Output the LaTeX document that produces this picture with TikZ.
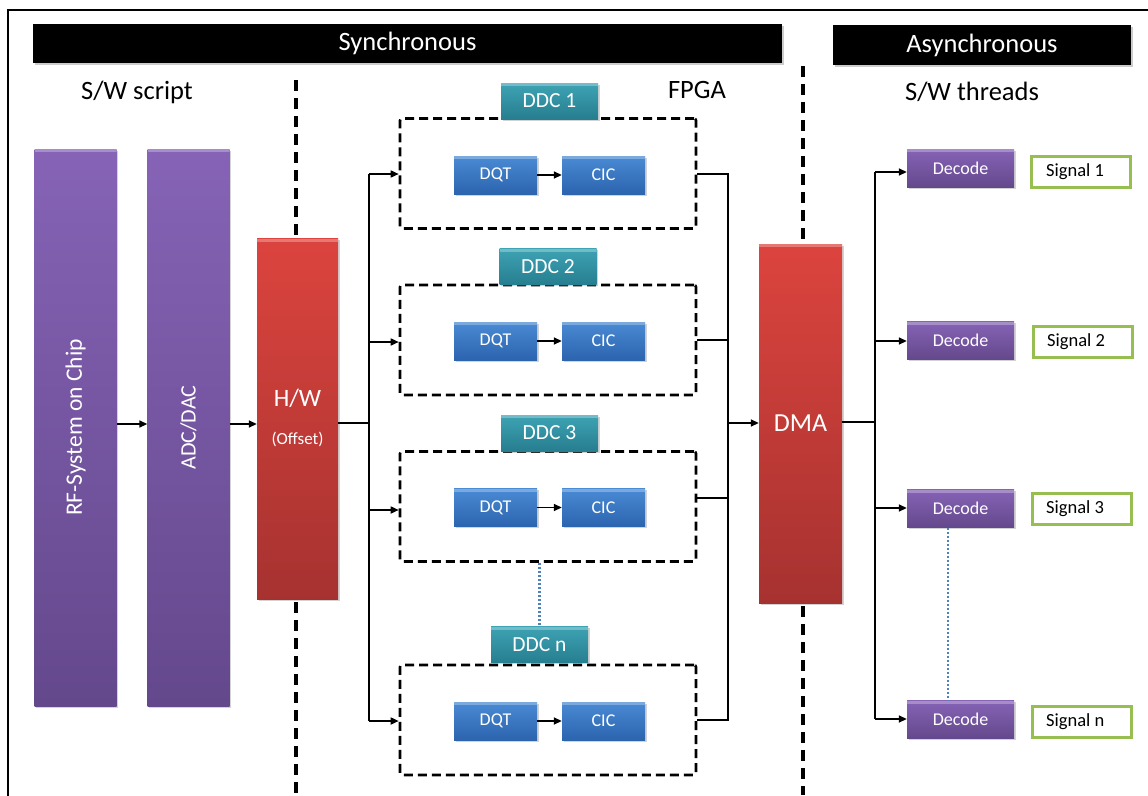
\documentclass[tikz,border=0pt]{standalone}
\usepackage{fontspec}
\setmainfont{Carlito}
\usepackage{graphicx}
\usetikzlibrary{shadows,arrows.meta}

\definecolor{purpleTop}{RGB}{134,99,182}
\definecolor{purpleBot}{RGB}{100,72,140}
\definecolor{redTop}{RGB}{220,68,62}
\definecolor{redBot}{RGB}{166,50,48}
\definecolor{tealTop}{RGB}{62,163,180}
\definecolor{tealBot}{RGB}{38,126,143}
\definecolor{blueTop}{RGB}{74,138,212}
\definecolor{blueBot}{RGB}{44,100,174}
\definecolor{sigGreen}{RGB}{150,190,80}
\definecolor{dotBlue}{RGB}{79,129,189}

\newcommand{\fsz}[1]{\fontsize{#1}{#1}\selectfont}

\begin{document}
\begin{tikzpicture}[x=1pt,y=-1pt,
  block/.style={rectangle, inner sep=0pt, text=white,
    drop shadow={shadow xshift=1.5pt, shadow yshift=-1.5pt, opacity=0.35},
    path picture={\fill[white,opacity=0.28]
      (path picture bounding box.north west) rectangle
      ([yshift=-3pt]path picture bounding box.north east);}},
  purpleblock/.style={block, top color=purpleTop, bottom color=purpleBot},
  redblock/.style={block, top color=redTop, bottom color=redBot},
  tealblock/.style={block, top color=tealTop, bottom color=tealBot,
    minimum width=97pt, minimum height=36pt, font=\fsz{21.5}},
  blueblock/.style={block, top color=blueTop, bottom color=blueBot,
    minimum width=83pt, minimum height=38pt, font=\fsz{18}},
  decblock/.style={purpleblock, minimum width=107pt, minimum height=38pt, font=\fsz{18}},
  sigbox/.style={rectangle, draw=sigGreen, line width=3pt, fill=white,
    minimum width=99pt, minimum height=31pt},
  sigtext/.style={anchor=west, inner sep=0pt, font=\fsz{18.5}},
  headbar/.style={rectangle, fill=black, text=white, inner sep=0pt,
    drop shadow={shadow xshift=1.5pt, shadow yshift=-1.5pt, opacity=0.4},
    font=\fsz{26.5}},
  heading/.style={inner sep=0pt, font=\fsz{26.5}},
  ddcframe/.style={rectangle, draw, line width=2.6pt, dash pattern=on 9pt off 5pt,
    rounded corners=2pt, minimum width=296pt, minimum height=110pt},
  separator/.style={line width=3.2pt, dash pattern=on 11pt off 7pt},
  link/.style={line width=1.6pt},
  arrow/.style={link, -{Triangle[length=8pt,width=7pt]}},
  dotlink/.style={dotBlue, line width=2.6pt, dash pattern=on 2pt off 2pt}
]
\useasboundingbox (0,0) rectangle (1148,795);
\clip (0,0) rectangle (1148,795);

% outer frame
\draw[line width=2pt] (8,10) rectangle (1170,820);

% header bars and titles
\node[headbar, minimum width=749pt, minimum height=39pt] (sync) at (407.5,43.5) {Synchronous};
\node[headbar, minimum width=298pt, minimum height=40pt] (async) at (982,45) {Asynchronous};
\node[heading] (swscript) at (137,92) {S/W script};
\node[heading] (fpga) at (697,90) {FPGA};
\node[heading] (swthreads) at (972,92) {S/W threads};

% domain separators
\draw[separator] (296,80) -- (296,795);
\draw[separator] (803,66) -- (803,795);

% software script stages
\node[purpleblock, minimum width=82pt, minimum height=557pt, font=\fsz{23.5}] (rf) at (75.5,427.5)
  {\rotatebox{90}{RF-System on Chip}};
\node[purpleblock, minimum width=82pt, minimum height=557pt, font=\fsz{22}] (adc) at (188.5,427.5)
  {\rotatebox{90}{ADC/DAC}};
\node[redblock, minimum width=81pt, minimum height=361pt, align=center] (hw) at (297.5,419)
  {\raisebox{-5pt}{\begin{tabular}{@{}c@{}}{\fsz{25}H/W}\\[22pt]{\fsz{17}(Offset)}\end{tabular}}};

% DDC channels
\foreach \i/\y/\ly/\lx/\lab in {1/173.5/101/549.5/DDC 1, 2/340/266.5/548/DDC 2,
                               3/506.5/433/549.5/DDC 3, n/720/644.5/539.5/DDC n}{
  \node[ddcframe] (box\i) at (548,\y) {};
  \node[tealblock] (ddc\i) at (\lx,\ly) {\lab};
}
\foreach \i/\y in {1/175, 2/341, 3/507.5, n/721}{
  \node[blueblock] (dqt\i) at (495.5,\y) {DQT};
  \node[blueblock] (cic\i) at (603.5,\y) {CIC};
  \draw[arrow] (dqt\i) -- (cic\i);
}

% DMA
\node[redblock, minimum width=83pt, minimum height=359pt, font=\fsz{26}] (dma) at (800.5,423.5) {DMA};

% decode threads and signals
\node[decblock] (dec1) at (960.5,168) {Decode};
\node[decblock] (dec2) at (960.5,340.5) {Decode};
\node[decblock] (dec3) at (960.5,508.5) {Decode};
\node[decblock] (decn) at (960.5,719.5) {Decode};
\node[sigbox] (sig1) at (1081,171.5) {};
\node[sigbox] (sig2) at (1082.5,341.5) {};
\node[sigbox] (sig3) at (1081.5,508.5) {};
\node[sigbox] (sign) at (1081.5,722) {};
\node[sigtext] (sigt1) at (1046,171.5) {Signal 1};
\node[sigtext] (sigt2) at (1047,341.5) {Signal 2};
\node[sigtext] (sigt3) at (1046,508.5) {Signal 3};
\node[sigtext] (sigtn) at (1046,722) {Signal n};

% script chain
\draw[arrow] (rf.east |- 0,424) -- (adc.west |- 0,424);
\draw[arrow] (adc.east |- 0,424) -- (hw.west |- 0,424);

% fan-out from H/W to the DDC channels
\coordinate (inbus) at (369,423);
\coordinate (inTop) at (369,174);
\coordinate (inBot) at (369,721);
\draw[link] (hw.east |- inbus) -- (inbus);
\draw[link] (inTop) -- (inBot);
\draw[arrow] (inTop) -- (box1.west |- inTop);
\draw[arrow] (369,342) coordinate (in2) -- (box2.west |- in2);
\draw[arrow] (369,510) coordinate (in3) -- (box3.west |- in3);
\draw[arrow] (inBot) -- (boxn.west |- inBot);

% fan-in from the DDC channels to DMA
\coordinate (outTop) at (728,174);
\coordinate (outBot) at (728,720);
\coordinate (outbus) at (728,423);
\draw[link] (box1.east |- outTop) -- (outTop) -- (outBot) -- (boxn.east |- outBot);
\draw[link] (box2.east |- 0,340) -- (728,340);
\draw[link] (box3.east |- 0,498) -- (728,498);
\draw[arrow] (outbus) -- (dma.west |- outbus);

% fan-out from DMA to the decode threads
\coordinate (decbus) at (875,422);
\coordinate (decTop) at (875,172);
\coordinate (decBot) at (875,719);
\draw[link] (dma.east |- decbus) -- (decbus);
\draw[link] (decTop) -- (decBot);
\draw[arrow] (decTop) -- (dec1.west |- decTop);
\draw[arrow] (875,341) coordinate (d2) -- (dec2.west |- d2);
\draw[arrow] (875,508) coordinate (d3) -- (dec3.west |- d3);
\draw[arrow] (decBot) -- (decn.west |- decBot);

% continuation marks
\draw[dotlink] (box3.south -| ddcn) -- (ddcn.north);
\draw[dotlink] (dec3.south -| 948,0) -- (decn.north -| 948,0);
\end{tikzpicture}
\end{document}
